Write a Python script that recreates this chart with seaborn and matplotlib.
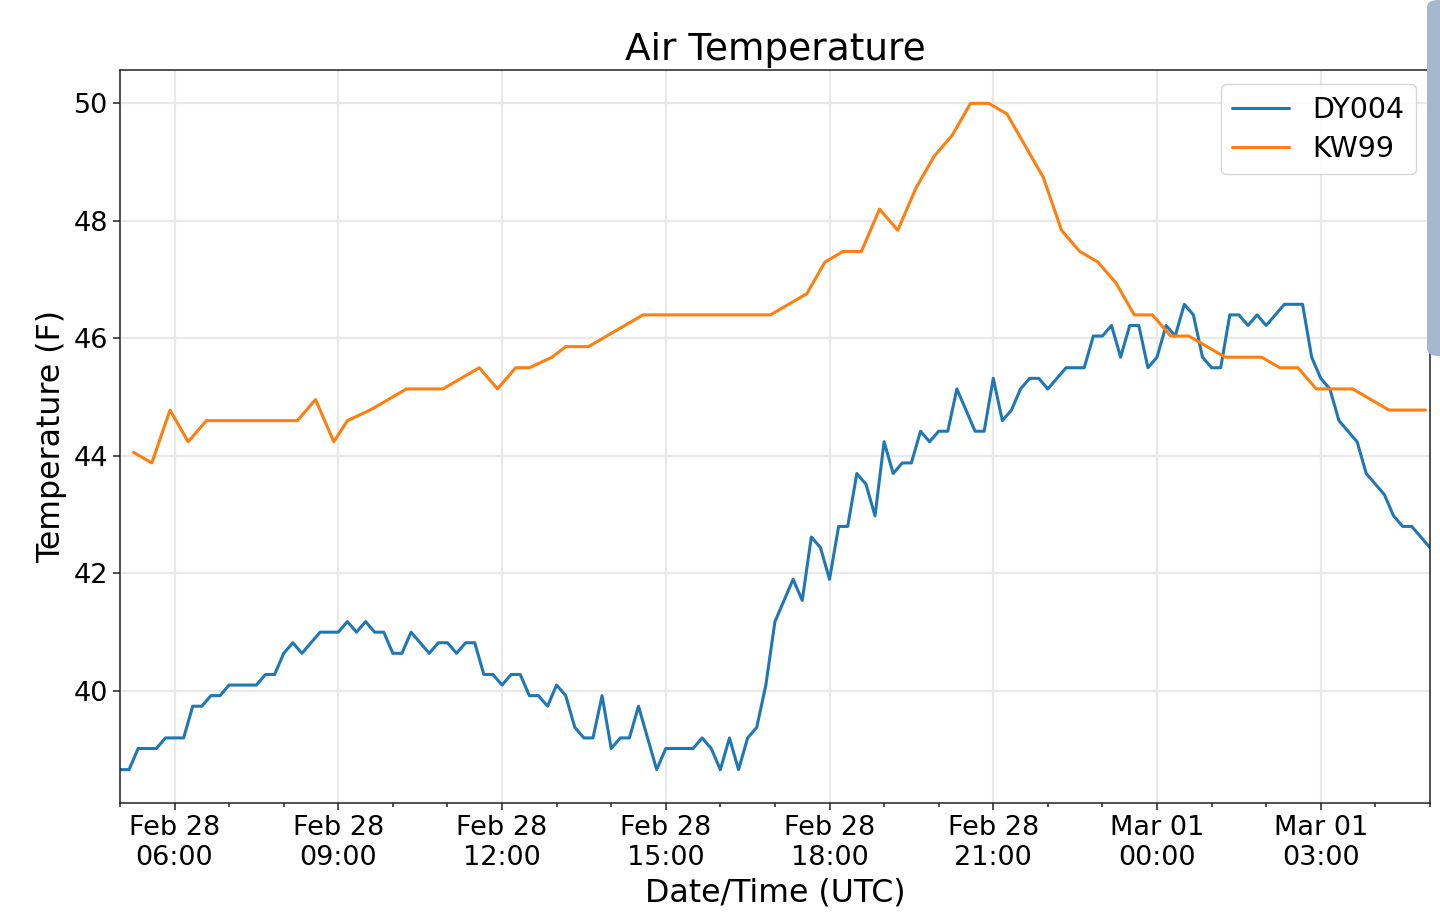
import matplotlib
matplotlib.use("Agg")
import matplotlib.pyplot as plt
import matplotlib.dates as mdates
from matplotlib.patches import FancyBboxPatch
import seaborn as sns
import pandas as pd

# DY004: 10-minute obs starting Feb 28 05:00 UTC (deg F)
dy004_start = "2019-02-28 05:00"
dy004_temp = [
    38.66, 38.66, 39.02, 39.02, 39.02, 39.2, 39.2, 39.2, 39.74, 39.74,
    39.92, 39.92, 40.1, 40.1, 40.1, 40.1, 40.28, 40.28, 40.64, 40.82,
    40.64, 40.82, 41.0, 41.0, 41.0, 41.18, 41.0, 41.18, 41.0, 41.0,
    40.64, 40.64, 41.0, 40.82, 40.64, 40.82, 40.82, 40.64, 40.82, 40.82,
    40.28, 40.28, 40.1, 40.28, 40.28, 39.92, 39.92, 39.74, 40.1, 39.92,
    39.38, 39.2, 39.2, 39.92, 39.02, 39.2, 39.2, 39.74, 39.2, 38.66,
    39.02, 39.02, 39.02, 39.02, 39.2, 39.02, 38.66, 39.2, 38.66, 39.2,
    39.38, 40.1, 41.18, 41.54, 41.9, 41.54, 42.62, 42.44, 41.9, 42.8,
    42.8, 43.7, 43.52, 42.98, 44.24, 43.7, 43.88, 43.88, 44.42, 44.24,
    44.42, 44.42, 45.14, 44.78, 44.42, 44.42, 45.32, 44.6, 44.78, 45.14,
    45.32, 45.32, 45.14, 45.32, 45.5, 45.5, 45.5, 46.04, 46.04, 46.22,
    45.68, 46.22, 46.22, 45.5, 45.68, 46.22, 46.04, 46.58, 46.4, 45.68,
    45.5, 45.5, 46.4, 46.4, 46.22, 46.4, 46.22, 46.4, 46.58, 46.58,
    46.58, 45.68, 45.32, 45.14, 44.6, 44.42, 44.24, 43.7, 43.52, 43.34,
    42.98, 42.8, 42.8, 42.62, 42.44,
]

# KW99: roughly 20-minute obs (deg F)
kw99_time = [
    "02-28 05:15", "02-28 05:35", "02-28 05:55", "02-28 06:15", "02-28 06:35",
    "02-28 06:55", "02-28 07:15", "02-28 07:35", "02-28 07:55", "02-28 08:15",
    "02-28 08:35", "02-28 08:55", "02-28 09:10", "02-28 09:35", "02-28 09:55",
    "02-28 10:15", "02-28 10:35", "02-28 10:55", "02-28 11:15", "02-28 11:35",
    "02-28 11:55", "02-28 12:15", "02-28 12:30", "02-28 12:55", "02-28 13:10",
    "02-28 13:35", "02-28 13:55", "02-28 14:15", "02-28 14:35", "02-28 14:55",
    "02-28 15:15", "02-28 15:35", "02-28 15:55", "02-28 16:15", "02-28 16:35",
    "02-28 16:55", "02-28 17:15", "02-28 17:35", "02-28 17:55", "02-28 18:15",
    "02-28 18:35", "02-28 18:55", "02-28 19:15", "02-28 19:35", "02-28 19:55",
    "02-28 20:15", "02-28 20:35", "02-28 20:55", "02-28 21:15", "02-28 21:35",
    "02-28 21:55", "02-28 22:15", "02-28 22:35", "02-28 22:55", "02-28 23:15",
    "02-28 23:35", "02-28 23:55", "03-01 00:15", "03-01 00:35", "03-01 00:55",
    "03-01 01:15", "03-01 01:35", "03-01 01:55", "03-01 02:15", "03-01 02:35",
    "03-01 02:55", "03-01 03:15", "03-01 03:35", "03-01 03:55", "03-01 04:15",
    "03-01 04:35", "03-01 04:55",
]
kw99_temp = [
    44.06, 43.88, 44.78, 44.24, 44.6,
    44.6, 44.6, 44.6, 44.6, 44.6,
    44.96, 44.24, 44.6, 44.78, 44.96,
    45.14, 45.14, 45.14, 45.32, 45.5,
    45.14, 45.5, 45.5, 45.68, 45.86,
    45.86, 46.04, 46.22, 46.4, 46.4,
    46.4, 46.4, 46.4, 46.4, 46.4,
    46.4, 46.58, 46.76, 47.3, 47.48,
    47.48, 48.2, 47.84, 48.56, 49.1,
    49.46, 50.0, 50.0, 49.82, 49.28,
    48.74, 47.84, 47.48, 47.3, 46.94,
    46.4, 46.4, 46.04, 46.04, 45.86,
    45.68, 45.68, 45.68, 45.5, 45.5,
    45.14, 45.14, 45.14, 44.96, 44.78,
    44.78, 44.78,
]

dy = pd.DataFrame({
    "time": pd.date_range(dy004_start, periods=len(dy004_temp), freq="10min"),
    "temp": dy004_temp,
})
kw = pd.DataFrame({
    "time": pd.to_datetime(["2019-" + t for t in kw99_time]),
    "temp": kw99_temp,
})

sns.set_style("ticks")
plt.rcParams["font.family"] = ["DejaVu Sans"]
plt.rcParams["text.color"] = "black"
plt.rcParams["axes.labelcolor"] = "black"

fig = plt.figure(figsize=(14.4, 9.18), dpi=100)
ax = fig.add_axes([0.0833, 0.1253, 0.9097, 0.7984])

sns.lineplot(data=dy, x="time", y="temp", ax=ax, color="#1f77b4", lw=2.2, label="DY004")
sns.lineplot(data=kw, x="time", y="temp", ax=ax, color="#ff7f0e", lw=2.2, label="KW99")

ax.set_xlim(dy["time"].iloc[0], dy["time"].iloc[-1])
ax.xaxis.set_major_locator(mdates.HourLocator(byhour=range(0, 24, 3)))
ax.xaxis.set_minor_locator(mdates.HourLocator())
ax.xaxis.set_major_formatter(mdates.DateFormatter("%b %d\n%H:%M"))

ax.grid(True, which="major", color="#e9e9e9", lw=1.6)
ax.set_axisbelow(True)
for s in ax.spines.values():
    s.set_color("#222222")
    s.set_linewidth(1.1)
ax.tick_params(axis="both", which="major", labelsize=19.5, length=5, width=1.1,
               color="#222222", labelcolor="black")
ax.tick_params(axis="x", which="minor", length=3, width=1.1, color="#222222")

ax.set_title("Air Temperature", fontsize=27, pad=7, color="black")
ax.set_xlabel("Date/Time (UTC)", fontsize=22.8, labelpad=5)
ax.set_ylabel("Temperature (F)", fontsize=22.8, labelpad=5)

leg = ax.legend(loc="upper right", fontsize=20.5, handlelength=2.0, fancybox=True,
                framealpha=0.8, edgecolor="#cccccc", labelspacing=0.4)
for line in leg.get_lines():
    line.set_linewidth(2.2)

# scrollbar overlay at right edge of the screenshot
fig.patches.append(FancyBboxPatch((1427 / 1440, 1 - 356 / 918), 0.02, 356 / 918,
                                  boxstyle="round,pad=0,rounding_size=0.008",
                                  transform=fig.transFigure, facecolor="#a3b7cf",
                                  edgecolor="none", zorder=10))

fig.savefig("out.png", dpi=100)
